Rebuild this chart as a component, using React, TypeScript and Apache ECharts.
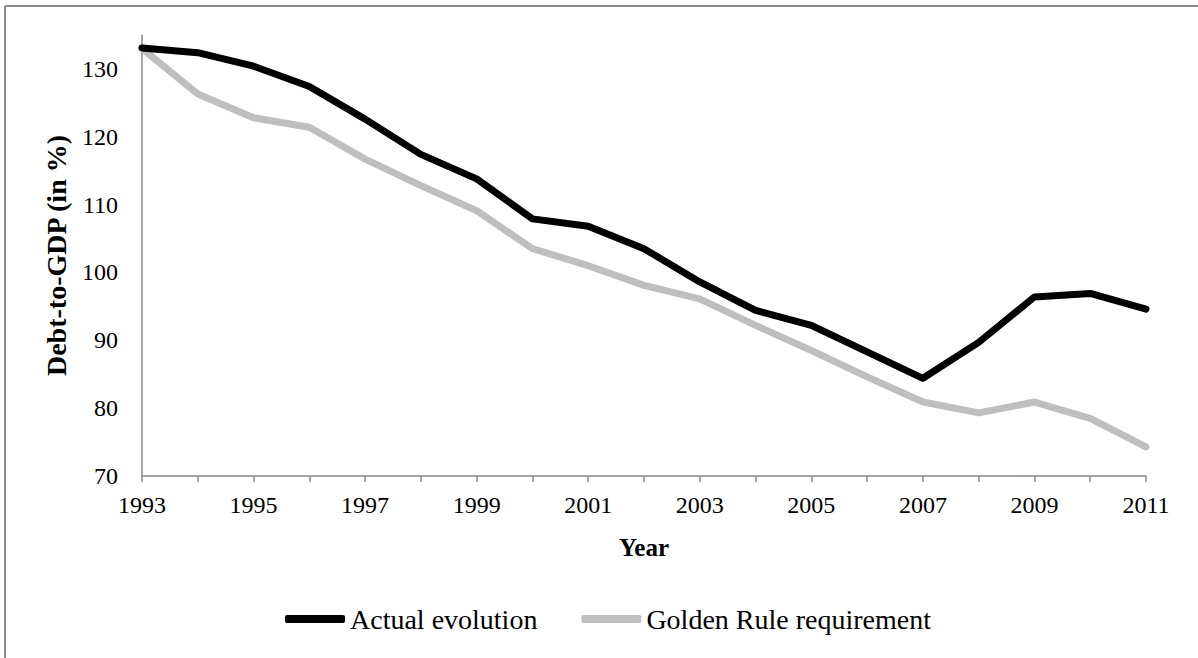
import React, { useEffect, useRef } from "react";
import * as echarts from "echarts";

const years = ["1993","1994","1995","1996","1997","1998","1999","2000","2001","2002","2003","2004","2005","2006","2007","2008","2009","2010","2011"];
const actualEvolution = [133.1, 132.4, 130.4, 127.4, 122.6, 117.4, 113.8, 107.9, 106.8, 103.5, 98.6, 94.4, 92.2, 88.3, 84.4, 89.7, 96.4, 96.9, 94.6];
const goldenRule = [133.0, 126.3, 122.8, 121.4, 116.7, 112.8, 109.1, 103.5, 101.0, 98.1, 96.1, 92.2, 88.5, 84.6, 80.9, 79.3, 80.9, 78.5, 74.3];
const seriesNames = ["Actual evolution", "Golden Rule requirement"];

const FONT = "Liberation Serif, Times New Roman, serif";

export default function App() {
  const ref = useRef<HTMLDivElement>(null);
  useEffect(() => {
    document.body.style.margin = "0";
    const chart = echarts.init(ref.current!, null, { renderer: "svg" });
    chart.setOption({
      animation: false,
      backgroundColor: "#ffffff",
      textStyle: { fontFamily: FONT, color: "#000" },
      graphic: [
        { type: "line", shape: { x1: 5, y1: 6, x2: 1198, y2: 6 }, style: { stroke: "#8a8a8a", lineWidth: 2 } },
        { type: "line", shape: { x1: 5, y1: 6, x2: 5, y2: 658 }, style: { stroke: "#8a8a8a", lineWidth: 2 } },
      ],
      grid: { left: 142, right: 52, top: 35, bottom: 182, containLabel: false },
      legend: {
        left: 280,
        top: 600,
        itemWidth: 60,
        itemHeight: 8,
        itemGap: 44,
        icon: "roundRect",
        textStyle: { fontFamily: FONT, fontSize: 28, color: "#000" },
        data: seriesNames,
      },
      xAxis: {
        type: "category",
        data: years,
        boundaryGap: false,
        name: "Year",
        nameLocation: "middle",
        nameGap: 59,
        nameTextStyle: { fontFamily: FONT, fontSize: 25, fontWeight: "bold", color: "#000" },
        axisLine: { lineStyle: { color: "#888", width: 1.5 } },
        axisTick: { show: true, interval: 0, length: 6, lineStyle: { color: "#888", width: 1.5 } },
        axisLabel: { interval: 1, fontFamily: FONT, fontSize: 24, color: "#000", margin: 17 },
        splitLine: { show: false },
      },
      yAxis: {
        type: "value",
        min: 70,
        max: 135,
        interval: 10,
        name: "Debt-to-GDP (in %)",
        nameLocation: "middle",
        nameGap: 72,
        nameTextStyle: { fontFamily: FONT, fontSize: 28, fontWeight: "bold", color: "#000" },
        axisLine: { show: true, lineStyle: { color: "#888", width: 1.5 } },
        axisTick: { show: false },
        axisLabel: { fontFamily: FONT, fontSize: 24, color: "#000", margin: 24, showMaxLabel: false },
        splitLine: { show: false },
      },
      series: [
        {
          name: seriesNames[0],
          type: "line",
          data: actualEvolution,
          symbol: "none",
          color: "#000000",
          lineStyle: { color: "#000000", width: 7, cap: "round", join: "round" },
          z: 3,
        },
        {
          name: seriesNames[1],
          type: "line",
          data: goldenRule,
          symbol: "none",
          color: "#bfbfbf",
          lineStyle: { color: "#bfbfbf", width: 7, cap: "round", join: "round" },
          z: 2,
        },
      ],
    });
    return () => chart.dispose();
  }, []);
  return <div ref={ref} style={{ position: "fixed", left: 0, top: 0, width: 1198, height: 658 }} />;
}
